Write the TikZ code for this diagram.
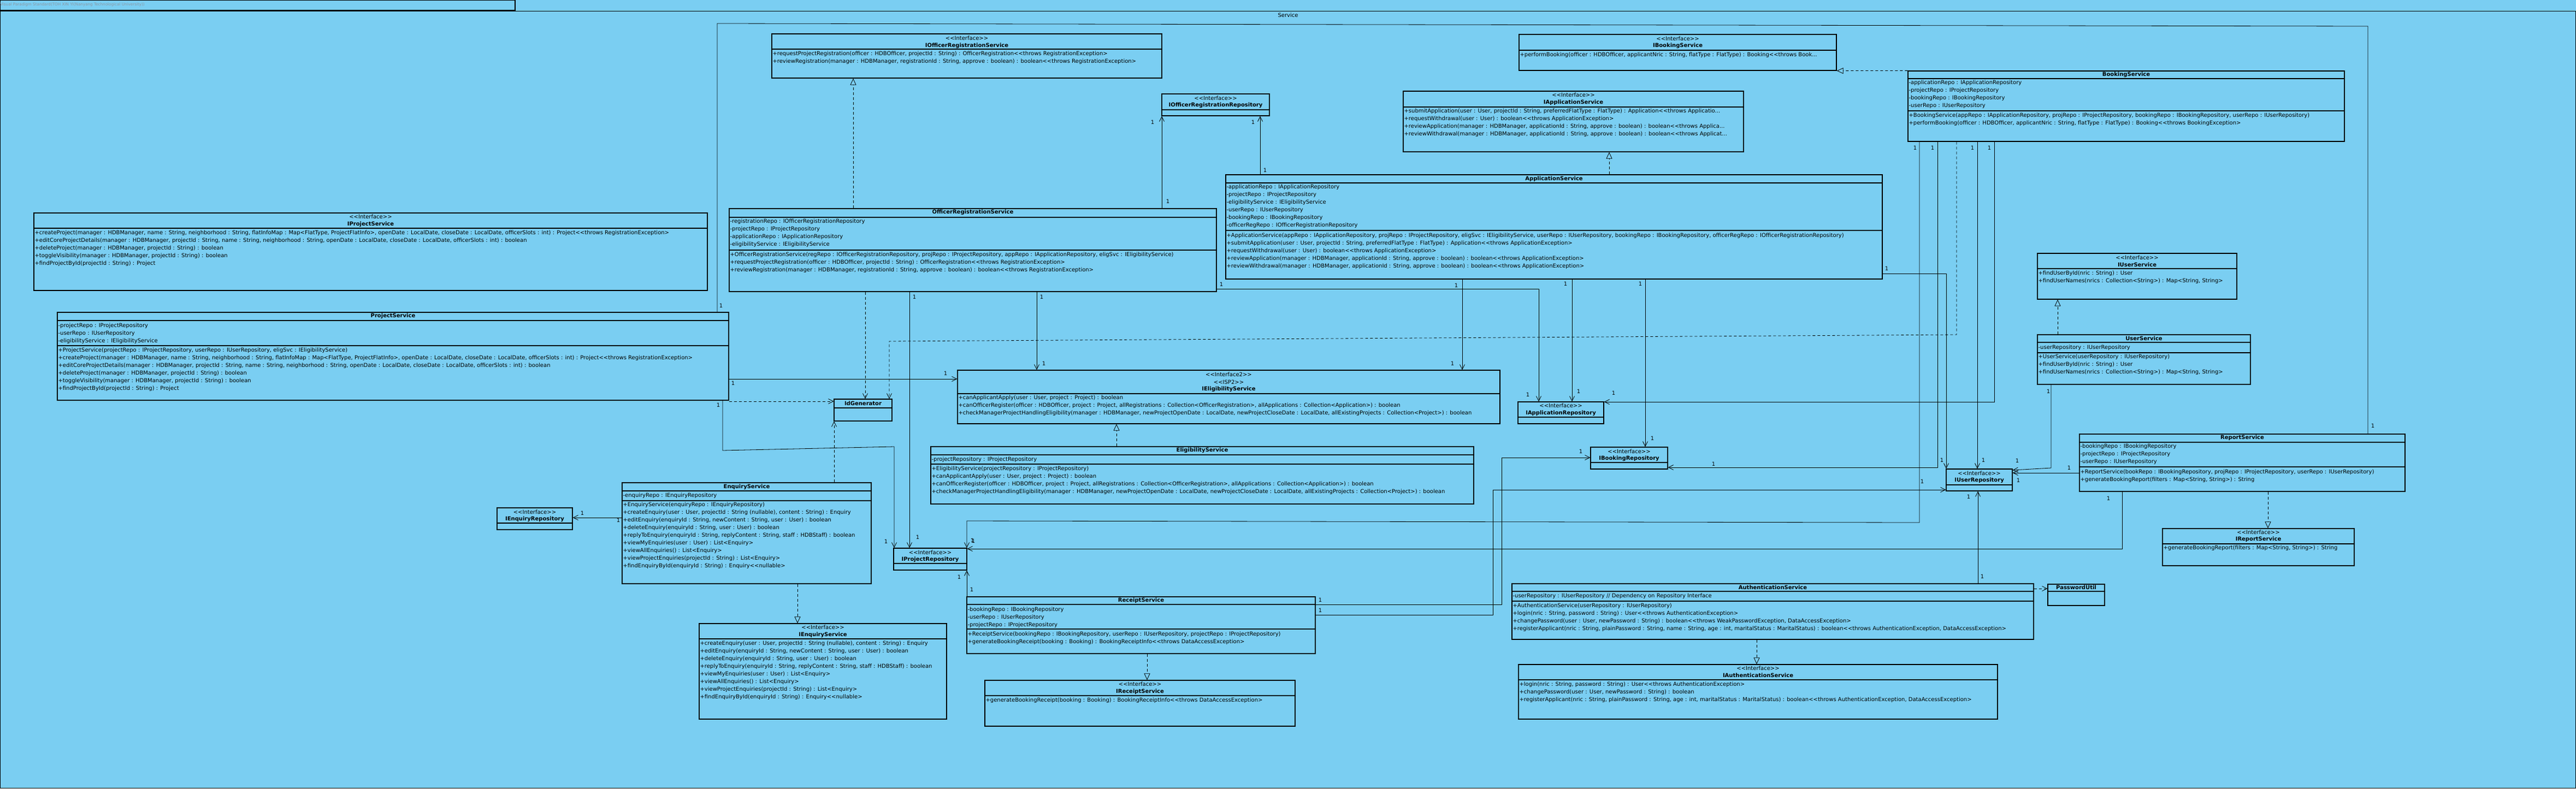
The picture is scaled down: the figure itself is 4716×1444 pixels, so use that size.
\documentclass[tikz,border=0pt]{standalone}
\usepackage{fontspec}
\usetikzlibrary{arrows.meta,fit}
\newfontfamily\umlfont{DejaVu Sans}
\newcommand{\umltext}{\umlfont\fontsize{10}{12}\selectfont}
\newcommand{\trunc}{...}
\definecolor{vpblue}{RGB}{122,206,242}
\definecolor{tabgray}{RGB}{140,152,164}
\tikzset{
  box/.style={draw, line width=1.3pt, inner sep=0pt},
  boxline/.style={line width=1.3pt},
  mem/.style={anchor=west, inner sep=0pt, xshift=2pt, font=\umltext},
  ttl/.style={inner sep=0pt, font=\umltext\bfseries},
  stereo/.style={inner sep=0pt, font=\umltext},
  mult/.style={inner sep=0pt, font=\umltext},
  assoc/.style={draw, line width=0.8pt, -{Straight Barb[length=9pt,width=9pt]}},
  dep/.style={draw, line width=0.8pt, dash pattern=on 5pt off 4pt, -{Straight Barb[length=9pt,width=9pt]}},
  real/.style={draw, line width=0.8pt, dash pattern=on 5pt off 4pt, -{Triangle[open,length=12pt,width=11pt]}},
  link/.style={draw, line width=0.8pt}
}
\newcommand{\umlbox}[5]{\node[box, fit={(#2,#3) (#4,#5)}] (#1) {};}
\newcommand{\umlsep}[2]{\draw[boxline] (#1.west |- 0,#2) -- (#1.east |- 0,#2);}
\newcommand{\umlrows}[4]{\foreach \t [count=\i from 0] in {#4} {\node[mem] (#1-#2\i) at (#1.west |- 0,{#3+14*\i}) {\t};}}
\begin{document}
\begin{tikzpicture}[x=1pt,y=-1pt]
\useasboundingbox (0,0) rectangle (4716,1444);
\fill[vpblue] (0,0) rectangle (4716,1444);
\draw[boxline] (0.7,0.7) rectangle (943,19);
\node[anchor=west, inner sep=0pt, text=tabgray, font=\umlfont\fontsize{7.2}{9}\selectfont] (tab) at (0,9) {Visual Paradigm Standard(TOH XIN YI(Nanyang Technological University))};
\draw[boxline] (0.7,20.5) rectangle (4715.3,1443.3);
\node[stereo] (pkg) at (2358,28) {Service};

\umlbox{iors}{1413}{62}{2127}{143}
\umlsep{iors}{90}
\node[stereo] (iors-s) at (iors.north |- 0,70) {<<Interface>>};
\node[ttl] (iors-t) at (iors.north |- 0,84) {IOfficerRegistrationService};
\umlrows{iors}{m}{99}{{+requestProjectRegistration(officer : HDBOfficer, projectId : String) : OfficerRegistration<<throws RegistrationException>},{+reviewRegistration(manager : HDBManager, registrationId : String, approve : boolean) : boolean<<throws RegistrationException>}}

\umlbox{ibks}{2781}{63}{3362}{129}
\umlsep{ibks}{92}
\node[stereo] (ibks-s) at (ibks.north |- 0,71) {<<Interface>>};
\node[ttl] (ibks-t) at (ibks.north |- 0,84) {IBookingService};
\umlrows{ibks}{m}{101}{{+performBooking(officer : HDBOfficer, applicantNric : String, flatType : FlatType) : Booking<<throws Book\trunc}}

\umlbox{bks}{3493}{130}{4292}{259}
\umlsep{bks}{144}\umlsep{bks}{203}
\node[ttl] (bks-t) at (bks.north |- 0,137) {BookingService};
\umlrows{bks}{a}{152}{{-applicationRepo : IApplicationRepository},{-projectRepo : IProjectRepository},{-bookingRepo : IBookingRepository},{-userRepo : IUserRepository}}
\umlrows{bks}{m}{212}{{+BookingService(appRepo : IApplicationRepository, projRepo : IProjectRepository, bookingRepo : IBookingRepository, userRepo : IUserRepository)},{+performBooking(officer : HDBOfficer, applicantNric : String, flatType : FlatType) : Booking<<throws BookingException>}}

\umlbox{iaps}{2569}{167}{3192}{278}
\umlsep{iaps}{196}
\node[stereo] (iaps-s) at (iaps.north |- 0,174) {<<Interface>>};
\node[ttl] (iaps-t) at (iaps.north |- 0,188) {IApplicationService};
\umlrows{iaps}{m}{204}{{+submitApplication(user : User, projectId : String, preferredFlatType : FlatType) : Application<<throws Applicatio\trunc},{+requestWithdrawal(user : User) : boolean<<throws ApplicationException>},{+reviewApplication(manager : HDBManager, applicationId : String, approve : boolean) : boolean<<throws Applica\trunc},{+reviewWithdrawal(manager : HDBManager, applicationId : String, approve : boolean) : boolean<<throws Applicat\trunc}}

\umlbox{iorr}{2127}{172}{2324}{212}
\umlsep{iorr}{201}
\node[stereo] (iorr-s) at (iorr.north |- 0,180) {<<Interface>>};
\node[ttl] (iorr-t) at (iorr.north |- 0,193) {IOfficerRegistrationRepository};

\umlbox{aps}{2244}{320}{3446}{511}
\umlsep{aps}{335}\umlsep{aps}{422}
\node[ttl] (aps-t) at (aps.north |- 0,328) {ApplicationService};
\umlrows{aps}{a}{343}{{-applicationRepo : IApplicationRepository},{-projectRepo : IProjectRepository},{-eligibilityService : IEligibilityService},{-userRepo : IUserRepository},{-bookingRepo : IBookingRepository},{-officerRegRepo : IOfficerRegistrationRepository}}
\umlrows{aps}{m}{432}{{+ApplicationService(appRepo : IApplicationRepository, projRepo : IProjectRepository, eligSvc : IEligibilityService, userRepo : IUserRepository, bookingRepo : IBookingRepository, officerRegRepo : IOfficerRegistrationRepository)},{+submitApplication(user : User, projectId : String, preferredFlatType : FlatType) : Application<<throws ApplicationException>},{+requestWithdrawal(user : User) : boolean<<throws ApplicationException>},{+reviewApplication(manager : HDBManager, applicationId : String, approve : boolean) : boolean<<throws ApplicationException>},{+reviewWithdrawal(manager : HDBManager, applicationId : String, approve : boolean) : boolean<<throws ApplicationException>}}

\umlbox{ors}{1335}{382}{2227}{534}
\umlsep{ors}{398}\umlsep{ors}{458}
\node[ttl] (ors-t) at (ors.north |- 0,389) {OfficerRegistrationService};
\umlrows{ors}{a}{406}{{-registrationRepo : IOfficerRegistrationRepository},{-projectRepo : IProjectRepository},{-applicationRepo : IApplicationRepository},{-eligibilityService : IEligibilityService}}
\umlrows{ors}{m}{467}{{+OfficerRegistrationService(regRepo : IOfficerRegistrationRepository, projRepo : IProjectRepository, appRepo : IApplicationRepository, eligSvc : IEligibilityService)},{+requestProjectRegistration(officer : HDBOfficer, projectId : String) : OfficerRegistration<<throws RegistrationException>},{+reviewRegistration(manager : HDBManager, registrationId : String, approve : boolean) : boolean<<throws RegistrationException>}}

\umlbox{ipjs}{62}{390}{1295}{532}
\umlsep{ipjs}{418}
\node[stereo] (ipjs-s) at (ipjs.north |- 0,397) {<<Interface>>};
\node[ttl] (ipjs-t) at (ipjs.north |- 0,411) {IProjectService};
\umlrows{ipjs}{m}{427}{{+createProject(manager : HDBManager, name : String, neighborhood : String, flatInfoMap : Map<FlatType, ProjectFlatInfo>, openDate : LocalDate, closeDate : LocalDate, officerSlots : int) : Project<<throws RegistrationException>},{+editCoreProjectDetails(manager : HDBManager, projectId : String, name : String, neighborhood : String, openDate : LocalDate, closeDate : LocalDate, officerSlots : int) : boolean},{+deleteProject(manager : HDBManager, projectId : String) : boolean},{+toggleVisibility(manager : HDBManager, projectId : String) : boolean},{+findProjectById(projectId : String) : Project}}

\umlbox{pjs}{105}{572}{1334}{733}
\umlsep{pjs}{587}\umlsep{pjs}{633}
\node[ttl] (pjs-t) at (pjs.north |- 0,579) {ProjectService};
\umlrows{pjs}{a}{597}{{-projectRepo : IProjectRepository},{-userRepo : IUserRepository},{-eligibilityService : IEligibilityService}}
\umlrows{pjs}{m}{642}{{+ProjectService(projectRepo : IProjectRepository, userRepo : IUserRepository, eligSvc : IEligibilityService)},{+createProject(manager : HDBManager, name : String, neighborhood : String, flatInfoMap : Map<FlatType, ProjectFlatInfo>, openDate : LocalDate, closeDate : LocalDate, officerSlots : int) : Project<<throws RegistrationException>},{+editCoreProjectDetails(manager : HDBManager, projectId : String, name : String, neighborhood : String, openDate : LocalDate, closeDate : LocalDate, officerSlots : int) : boolean},{+deleteProject(manager : HDBManager, projectId : String) : boolean},{+toggleVisibility(manager : HDBManager, projectId : String) : boolean},{+findProjectById(projectId : String) : Project}}

\umlbox{idg}{1527}{731}{1633}{771}
\umlsep{idg}{747}
\node[ttl] (idg-t) at (idg.north |- 0,739) {IdGenerator};

\umlbox{iels}{1753}{678}{2746}{776}
\umlsep{iels}{721}
\node[stereo] (iels-s) at (iels.north |- 0,686) {<<Interface2>>};
\node[stereo] (iels-p) at (iels.north |- 0,700) {<<ISP2>>};
\node[ttl] (iels-t) at (iels.north |- 0,713) {IEligibilityService};
\umlrows{iels}{m}{729}{{+canApplicantApply(user : User, project : Project) : boolean},{+canOfficerRegister(officer : HDBOfficer, project : Project, allRegistrations : Collection<OfficerRegistration>, allApplications : Collection<Application>) : boolean},{+checkManagerProjectHandlingEligibility(manager : HDBManager, newProjectOpenDate : LocalDate, newProjectCloseDate : LocalDate, allExistingProjects : Collection<Project>) : boolean}}

\umlbox{els}{1704}{818}{2698}{923}
\umlsep{els}{833}\umlsep{els}{850}
\node[ttl] (els-t) at (els.north |- 0,825) {EligibilityService};
\umlrows{els}{a}{842}{{-projectRepository : IProjectRepository}}
\umlrows{els}{m}{859}{{+EligibilityService(projectRepository : IProjectRepository)},{+canApplicantApply(user : User, project : Project) : boolean},{+canOfficerRegister(officer : HDBOfficer, project : Project, allRegistrations : Collection<OfficerRegistration>, allApplications : Collection<Application>) : boolean},{+checkManagerProjectHandlingEligibility(manager : HDBManager, newProjectOpenDate : LocalDate, newProjectCloseDate : LocalDate, allExistingProjects : Collection<Project>) : boolean}}

\umlbox{enqs}{1139}{884}{1595}{1069}
\umlsep{enqs}{899}\umlsep{enqs}{917}
\node[ttl] (enqs-t) at (enqs.north |- 0,892) {EnquiryService};
\umlrows{enqs}{a}{908}{{-enquiryRepo : IEnquiryRepository}}
\umlrows{enqs}{m}{925}{{+EnquiryService(enquiryRepo : IEnquiryRepository)},{+createEnquiry(user : User, projectId : String (nullable), content : String) : Enquiry},{+editEnquiry(enquiryId : String, newContent : String, user : User) : boolean},{+deleteEnquiry(enquiryId : String, user : User) : boolean},{+replyToEnquiry(enquiryId : String, replyContent : String, staff : HDBStaff) : boolean},{+viewMyEnquiries(user : User) : List<Enquiry>},{+viewAllEnquiries() : List<Enquiry>},{+viewProjectEnquiries(projectId : String) : List<Enquiry>},{+findEnquiryById(enquiryId : String) : Enquiry<<nullable>}}

\umlbox{ienr}{910}{930}{1048}{970}
\umlsep{ienr}{958}
\node[stereo] (ienr-s) at (ienr.north |- 0,938) {<<Interface>>};
\node[ttl] (ienr-t) at (ienr.north |- 0,951) {IEnquiryRepository};

\umlbox{ienqs}{1280}{1142}{1733}{1317}
\umlsep{ienqs}{1170}
\node[stereo] (ienqs-s) at (ienqs.north |- 0,1149) {<<Interface>>};
\node[ttl] (ienqs-t) at (ienqs.north |- 0,1163) {IEnquiryService};
\umlrows{ienqs}{m}{1179}{{+createEnquiry(user : User, projectId : String (nullable), content : String) : Enquiry},{+editEnquiry(enquiryId : String, newContent : String, user : User) : boolean},{+deleteEnquiry(enquiryId : String, user : User) : boolean},{+replyToEnquiry(enquiryId : String, replyContent : String, staff : HDBStaff) : boolean},{+viewMyEnquiries(user : User) : List<Enquiry>},{+viewAllEnquiries() : List<Enquiry>},{+viewProjectEnquiries(projectId : String) : List<Enquiry>},{+findEnquiryById(enquiryId : String) : Enquiry<<nullable>}}

\umlbox{ipjr}{1636}{1004}{1770}{1044}
\umlsep{ipjr}{1032}
\node[stereo] (ipjr-s) at (ipjr.north |- 0,1012) {<<Interface>>};
\node[ttl] (ipjr-t) at (ipjr.north |- 0,1025) {IProjectRepository};

\umlbox{rcs}{1770}{1093}{2408}{1197}
\umlsep{rcs}{1107}\umlsep{rcs}{1152}
\node[ttl] (rcs-t) at (rcs.north |- 0,1100) {ReceiptService};
\umlrows{rcs}{a}{1117}{{-bookingRepo : IBookingRepository},{-userRepo : IUserRepository},{-projectRepo : IProjectRepository}}
\umlrows{rcs}{m}{1162}{{+ReceiptService(bookingRepo : IBookingRepository, userRepo : IUserRepository, projectRepo : IProjectRepository)},{+generateBookingReceipt(booking : Booking) : BookingReceiptInfo<<throws DataAccessException>}}

\umlbox{ircs}{1803}{1246}{2371}{1330}
\umlsep{ircs}{1274}
\node[stereo] (ircs-s) at (ircs.north |- 0,1253) {<<Interface>>};
\node[ttl] (ircs-t) at (ircs.north |- 0,1267) {IReceiptService};
\umlrows{ircs}{m}{1283}{{+generateBookingReceipt(booking : Booking) : BookingReceiptInfo<<throws DataAccessException>}}

\umlbox{iapr}{2779}{736}{2936}{776}
\umlsep{iapr}{764}
\node[stereo] (iapr-s) at (iapr.north |- 0,743) {<<Interface>>};
\node[ttl] (iapr-t) at (iapr.north |- 0,757) {IApplicationRepository};

\umlbox{ibkr}{2912}{819}{3053}{859}
\umlsep{ibkr}{847}
\node[stereo] (ibkr-s) at (ibkr.north |- 0,827) {<<Interface>>};
\node[ttl] (ibkr-t) at (ibkr.north |- 0,840) {IBookingRepository};

\umlbox{iusr}{3563}{859}{3684}{899}
\umlsep{iusr}{888}
\node[stereo] (iusr-s) at (iusr.north |- 0,867) {<<Interface>>};
\node[ttl] (iusr-t) at (iusr.north |- 0,880) {IUserRepository};

\umlbox{iuss}{3730}{464}{4095}{548}
\umlsep{iuss}{492}
\node[stereo] (iuss-s) at (iuss.north |- 0,472) {<<Interface>>};
\node[ttl] (iuss-t) at (iuss.north |- 0,485) {IUserService};
\umlrows{iuss}{m}{501}{{+findUserById(nric : String) : User},{+findUserNames(nrics : Collection<String>) : Map<String, String>}}

\umlbox{uss}{3730}{613}{4120}{704}
\umlsep{uss}{627}\umlsep{uss}{646}
\node[ttl] (uss-t) at (uss.north |- 0,620) {UserService};
\umlrows{uss}{a}{637}{{-userRepository : IUserRepository}}
\umlrows{uss}{m}{654}{{+UserService(userRepository : IUserRepository)},{+findUserById(nric : String) : User},{+findUserNames(nrics : Collection<String>) : Map<String, String>}}

\umlbox{rps}{3807}{795}{4403}{900}
\umlsep{rps}{810}\umlsep{rps}{855}
\node[ttl] (rps-t) at (rps.north |- 0,802) {ReportService};
\umlrows{rps}{a}{818}{{-bookingRepo : IBookingRepository},{-projectRepo : IProjectRepository},{-userRepo : IUserRepository}}
\umlrows{rps}{m}{865}{{+ReportService(bookRepo : IBookingRepository, projRepo : IProjectRepository, userRepo : IUserRepository)},{+generateBookingReport(filters : Map<String, String>) : String}}

\umlbox{irps}{3959}{968}{4310}{1036}
\umlsep{irps}{996}
\node[stereo] (irps-s) at (irps.north |- 0,975) {<<Interface>>};
\node[ttl] (irps-t) at (irps.north |- 0,988) {IReportService};
\umlrows{irps}{m}{1004}{{+generateBookingReport(filters : Map<String, String>) : String}}

\umlbox{aus}{2768}{1069}{3723}{1171}
\umlsep{aus}{1083}\umlsep{aus}{1101}
\node[ttl] (aus-t) at (aus.north |- 0,1076) {AuthenticationService};
\umlrows{aus}{a}{1092}{{-userRepository : IUserRepository // Dependency on Repository Interface}}
\umlrows{aus}{m}{1110}{{+AuthenticationService(userRepository : IUserRepository)},{+login(nric : String, password : String) : User<<throws AuthenticationException>},{+changePassword(user : User, newPassword : String) : boolean<<throws WeakPasswordException, DataAccessException>},{+registerApplicant(nric : String, plainPassword : String, name : String, age : int, maritalStatus : MaritalStatus) : boolean<<throws AuthenticationException, DataAccessException>}}

\umlbox{pwu}{3749}{1070}{3853}{1109}
\umlsep{pwu}{1083}
\node[ttl] (pwu-t) at (pwu.north |- 0,1076) {PasswordUtil};

\umlbox{iaus}{2780}{1217}{3657}{1317}
\umlsep{iaus}{1245}
\node[stereo] (iaus-s) at (iaus.north |- 0,1224) {<<Interface>>};
\node[ttl] (iaus-t) at (iaus.north |- 0,1237) {IAuthenticationService};
\umlrows{iaus}{m}{1254}{{+login(nric : String, password : String) : User<<throws AuthenticationException>},{+changePassword(user : User, newPassword : String) : boolean},{+registerApplicant(nric : String, plainPassword : String, age : int, maritalStatus : MaritalStatus) : boolean<<throws AuthenticationException, DataAccessException>}}

\draw[real] (ors.north -| 1562,0) -- (iors.south -| 1562,0);
\draw[real] (bks.north west) -- (ibks.south east);
\draw[real] (aps.north -| 2946,0) -- (iaps.south -| 2946,0);
\draw[real] (els.north -| 2044,0) -- (iels.south -| 2044,0);
\draw[real] (enqs.south -| 1460,0) -- (ienqs.north -| 1460,0);
\draw[real] (rcs.south -| 2100,0) -- (ircs.north -| 2100,0);
\draw[real] (uss.north -| 3767,0) -- (iuss.south -| 3767,0);
\draw[real] (rps.south -| 4152,0) -- (irps.north -| 4152,0);
\draw[real] (aus.south -| 3216,0) -- (iaus.north -| 3216,0);

\draw[dep] (pjs.east |- 0,735) -- (idg.west |- 0,735);
\draw[dep] (ors.south -| 1584,0) -- (idg.north -| 1584,0);
\draw[dep] (bks.south -| 3582,0) -- (3582,613) -- (1628,625) -- (idg.north -| 1628,0);
\draw[dep] (enqs.north -| 1527,0) -- (idg.south -| 1527,0);
\draw[dep] (aus.east |- 0,1078) -- (pwu.west |- 0,1078);

\draw[assoc] (ors.north -| 2127,0) -- (iorr.south -| 2127,0);
\draw[assoc] (aps.north -| 2307,0) -- (iorr.south -| 2307,0);
\draw[assoc] (pjs.east |- 0,694) -- (iels.west |- 0,694);
\draw[assoc] (pjs.south -| 1323,0) -- (1323,825) -- (1637,818) -- (ipjr.north -| 1637,0);
\draw[assoc] (ors.south -| 1665,0) -- (ipjr.north -| 1665,0);
\draw[assoc] (ors.south -| 1898,0) -- (iels.north -| 1898,0);
\draw[assoc] (aps.south -| 2677,0) -- (iels.north -| 2677,0);
\draw[assoc] (ors.east |- 0,529) -- (2817,529) -- (iapr.north -| 2817,0);
\draw[assoc] (aps.south -| 2878,0) -- (iapr.north -| 2878,0);
\draw[assoc] (aps.south -| 3012,0) -- (ibkr.north -| 3012,0);
\draw[assoc] (aps.east |- 0,501) -- (3563,501) -- (iusr.north -| 3563,0);
\draw[assoc] (bks.south -| 3651,0) -- (3651,736) -- (iapr.east |- 0,736);
\draw[assoc] (bks.south -| 3620,0) -- (iusr.north -| 3620,0);
\draw[assoc] (bks.south -| 3547,0) -- (3547,856) -- (ibkr.east |- 0,856);
\draw[assoc] (bks.south -| 3514,0) -- (3514,957) -- (1770,954) -- (ipjr.north -| 1770,0);
\draw[assoc] (rps.south -| 3885,0) -- (3885,1005) -- (ipjr.east |- 0,1005);
\draw[assoc] (rps.west |- 0,866) -- (iusr.east |- 0,866);
\draw[assoc] (uss.south -| 3755,0) -- (3755,857) -- (iusr.east |- 0,861);
\draw[assoc] (aus.north -| 3621,0) -- (iusr.south -| 3621,0);
\draw[assoc] (rcs.east |- 0,1107) -- (2749,1107) -- (2749,838) -- (ibkr.west |- 0,838);
\draw[assoc] (rcs.east |- 0,1126) -- (2733,1126) -- (2733,897) -- (iusr.west |- 0,897);
\draw[assoc] (rcs.north -| 1770,0) -- (ipjr.south -| 1770,0);
\draw[assoc] (enqs.west |- 0,948) -- (ienr.east |- 0,948);
\draw[link] (rps.north -| 4335,0) -- (4335,48) -- (1313,43) -- (pjs.north -| 1313,0);

\foreach \x/\y [count=\k] in {2110/224,2138/369,2294/224,2316/312,1342/702,1731/684,1315/742,1622/992,1674/544,1680/984,1907/544,1911/666,2666/523,2659/666,2236/521,2797/723,2866/520,2890/717,3003/520,3025/803,3454/492,3555/843,3642/271,2954/720,3611/271,3631/843,3538/271,3137/850,3506/271,1780/990,3860/913,1782/991,3788/857,3695/880,3750/717,3693/844,3629/1056,3604/910,2417/1099,2894/827,2417/1118,3519/882,1779/1080,1756/1057,1132/953,1066/940,4344/780,1320/560}
  \node[mult] (mul\k) at (\x,\y) {1};
\end{tikzpicture}
\end{document}
